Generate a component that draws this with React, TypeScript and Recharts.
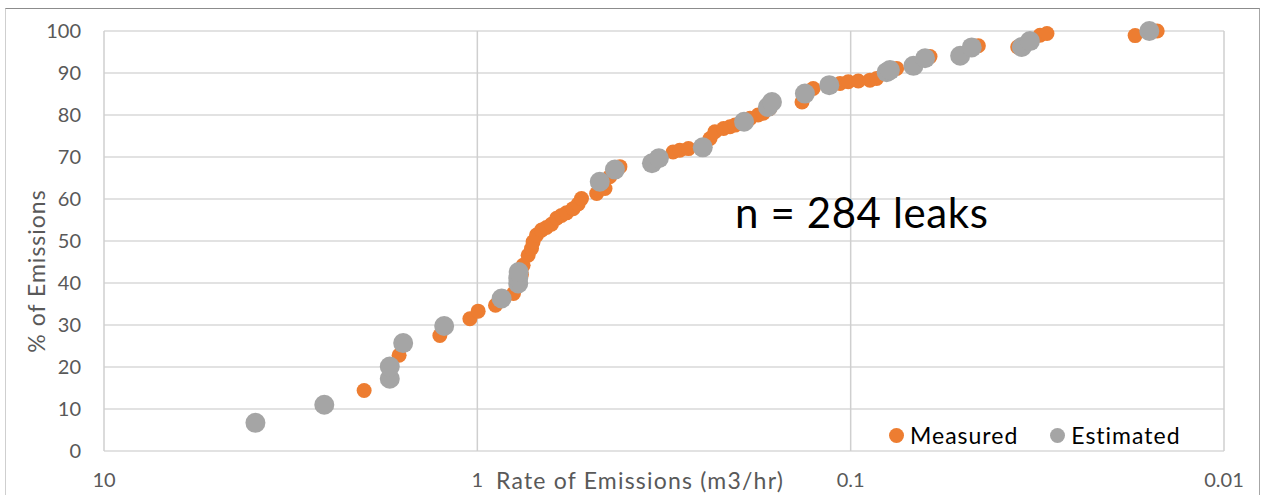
import { ScatterChart, Scatter, XAxis, YAxis, CartesianGrid, Label } from "recharts";

const rateTicks = [10, 1, 0.1, 0.01];
const pctTicks = [0, 10, 20, 30, 40, 50, 60, 70, 80, 90, 100];

// Measured leaks: rate (m3/hr) and cumulative % of emissions
const measuredRate = [
    2.01, 1.62, 1.26, 1.047, 0.995, 0.894, 0.8, 0.77, 0.762, 0.754, 0.731, 0.716, 0.709, 0.694,
    0.673, 0.653, 0.633, 0.613, 0.595, 0.577, 0.554, 0.537, 0.526, 0.479, 0.455, 0.442, 0.415,
    0.299, 0.287, 0.272, 0.238, 0.231, 0.219, 0.2105, 0.204, 0.186, 0.177, 0.1715, 0.165, 0.135,
    0.126, 0.1068, 0.1015, 0.0954, 0.0888, 0.0852, 0.0753, 0.0613, 0.0455, 0.0357, 0.0311,
    0.0298, 0.0173, 0.0151,
];
const measuredPct = [
    14.4, 22.8, 27.5, 31.5, 33.3, 34.7, 37.5, 39.9, 42.0, 44.2, 46.6, 48.2, 49.8, 51.4,
    52.6, 53.2, 54.0, 55.4, 56.1, 56.7, 57.7, 58.8, 60.1, 61.3, 62.5, 65.3, 67.7,
    71.2, 71.6, 72.0, 74.4, 76.0, 76.8, 77.2, 77.6, 79.2, 80.0, 80.4, 81.5, 83.1,
    86.3, 87.5, 87.9, 88.1, 88.3, 88.7, 91.1, 93.9, 96.5, 96.2, 99.0,
    99.4, 98.9, 100.0,
];

// Estimated leaks
const estimatedRate = [
    3.93, 2.57, 1.716, 1.716, 1.58, 1.227, 0.861, 0.777, 0.777, 0.775, 0.47, 0.428, 0.3406,
    0.3264, 0.249, 0.193, 0.1666, 0.1625, 0.1326, 0.1141, 0.0801, 0.0785, 0.0679, 0.0632,
    0.0509, 0.0474, 0.0348, 0.0331, 0.01585,
];
const estimatedPct = [
    6.7, 11.0, 17.2, 20.1, 25.7, 29.75, 36.3, 39.9, 41.2, 42.6, 64.1, 67.0, 68.5,
    69.7, 72.3, 78.4, 81.9, 83.1, 85.1, 87.1, 90.2, 90.7, 91.7, 93.5,
    94.1, 96.1, 96.2, 97.6, 100,
];

const measured = measuredRate.map((r, i) => ({ rate: r, pct: measuredPct[i] }));
const estimated = estimatedRate.map((r, i) => ({ rate: r, pct: estimatedPct[i] }));

const ORANGE = "#ED7D31";
const GRAY = "#A5A5A5";
const FONT = "Lato, 'Noto Sans', sans-serif";

const dot = (color: string, r: number) => (props: any) =>
    <circle cx={props.cx} cy={props.cy} r={r} fill={color} />;

// legend sits inside the plot, bottom right
const LegendBox = () => (
    <div style={{ position: "absolute", left: 889, top: 421, display: "flex", alignItems: "center", fontFamily: FONT, fontSize: 23, letterSpacing: 1, color: "#000", whiteSpace: "nowrap" }}>
        <span style={{ width: 15, height: 15, borderRadius: 8, background: ORANGE, marginRight: 6 }} />
        <span style={{ marginRight: 32 }}>Measured</span>
        <span style={{ width: 15, height: 15, borderRadius: 8, background: GRAY, marginRight: 6 }} />
        <span>Estimated</span>
    </div>
);

const App = () => {
    return (
        <div style={{ position: "absolute", left: 0, top: 0, width: 1262, height: 495, background: "#fff", overflow: "hidden" }}>
            <div style={{ position: "absolute", left: 5, top: 8, width: 1253, height: 520, borderTop: "1px solid #8c8c8c", borderRight: "1px solid #a6a6a6", borderLeft: "1px solid #cfcfcf" }} />
            <div style={{ position: "absolute", left: 0, top: 0 }}>
                <ScatterChart width={1262} height={495} margin={{ top: 31, right: 38, left: 0, bottom: 14 }}>
                    <CartesianGrid stroke="#d9d9d9" strokeWidth={1.5} vertical={false} />
                    <CartesianGrid stroke="#cfcfcf" strokeWidth={1.5} horizontal={false} />
                    <XAxis
                        type="number"
                        dataKey="rate"
                        scale="log"
                        domain={[0.01, 10]}
                        ticks={rateTicks}
                        reversed
                        allowDataOverflow
                        axisLine={false}
                        tickLine={false}
                        tickMargin={16}
                        height={30}
                        tick={{ fill: "#595959", fontSize: 20, fontFamily: FONT }}
                    >
                        <Label
                            content={() => (
                                <text x={496} y={489} fill="#595959" fontSize={23} letterSpacing={1.2} fontFamily={FONT}>
                                    Rate of Emissions (m3/hr)
                                </text>
                            )}
                        />
                    </XAxis>
                    <YAxis
                        type="number"
                        dataKey="pct"
                        domain={[0, 100]}
                        ticks={pctTicks}
                        axisLine={false}
                        tickLine={false}
                        tickMargin={17}
                        width={104}
                        tick={{ fill: "#595959", fontSize: 20, fontFamily: FONT }}
                    >
                        <Label
                            content={() => (
                                <text
                                    x={36}
                                    y={271}
                                    transform="rotate(-90 36 271)"
                                    textAnchor="middle"
                                    dominantBaseline="central"
                                    fill="#595959"
                                    fontSize={23}
                                    letterSpacing={1}
                                    fontFamily={FONT}
                                >
                                    % of Emissions
                                </text>
                            )}
                        />
                    </YAxis>
                    <Scatter name="Measured" data={measured} fill={ORANGE} shape={dot(ORANGE, 7.5)} isAnimationActive={false} />
                    <Scatter name="Estimated" data={estimated} fill={GRAY} shape={dot(GRAY, 10)} isAnimationActive={false} />
                </ScatterChart>
            </div>
            <LegendBox />
            <div style={{ position: "absolute", left: 735, top: 187, fontFamily: FONT, fontSize: 42, letterSpacing: 0.6, color: "#000", whiteSpace: "nowrap" }}>
                n = 284 leaks
            </div>
        </div>
    );
};

export default App;
